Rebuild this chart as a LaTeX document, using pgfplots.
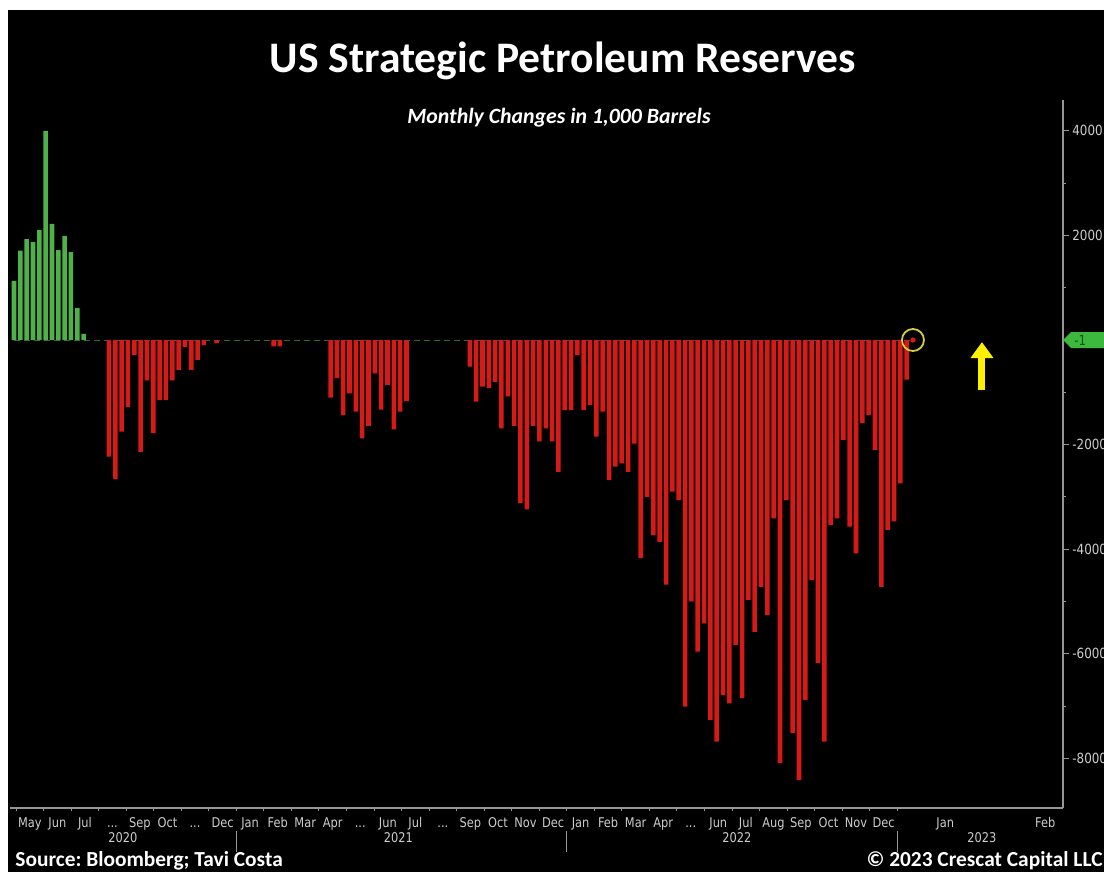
\documentclass[border=0pt]{standalone}
\usepackage{fontspec}
\setmainfont{Carlito}
\newfontfamily\bbg{DejaVu Sans}[FakeStretch=0.85]
\usepackage{pgfplots}
\pgfplotsset{compat=1.18}
\usepackage{pgfplotstable}
\usetikzlibrary{arrows.meta}

\definecolor{bbgreen}{RGB}{78,178,72}
\definecolor{bbred}{RGB}{214,26,24}
\definecolor{axgray}{RGB}{150,150,150}
\definecolor{lblgray}{RGB}{205,205,205}
\definecolor{ringyel}{RGB}{215,205,60}
\definecolor{arrowyel}{RGB}{255,240,0}
\definecolor{taggreen}{RGB}{60,185,60}

\newcommand{\skipm}{...}

% weekly change, 1,000 barrels (week 0 = early May 2020)
\pgfplotstableread{
wk chg
0 1130
1 1710
2 1930
3 1870
4 2100
5 4000
6 2220
7 1720
8 1990
9 1680
10 610
11 115
}\inflows

\pgfplotstableread{
wk chg
15 -2230
16 -2660
17 -1750
18 -1280
19 -290
20 -2140
21 -770
22 -1780
23 -1150
24 -1150
25 -770
26 -570
27 -130
28 -570
29 -380
30 -100
32 -60
41 -120
42 -120
50 -1100
51 -730
52 -1430
53 -1020
54 -1370
55 -1880
56 -1640
57 -640
58 -1330
59 -860
60 -1710
61 -1370
62 -1170
72 -510
73 -1180
74 -890
75 -920
76 -800
77 -1690
78 -1080
79 -1640
80 -3120
81 -3240
82 -1640
83 -1940
84 -1690
85 -1940
86 -2520
87 -1340
88 -1340
89 -290
90 -1340
91 -1240
92 -1850
93 -1370
94 -2680
95 -2420
96 -2360
97 -2520
98 -1980
99 -4170
100 -3000
101 -3730
102 -3860
103 -4680
104 -2900
105 -3060
106 -7010
107 -5000
108 -5960
109 -5420
110 -7270
111 -7680
112 -6790
113 -6950
114 -5830
115 -6850
116 -4970
117 -5580
118 -4720
119 -5260
120 -3410
121 -8090
122 -3060
123 -7520
124 -8410
125 -6880
126 -4590
127 -6180
128 -7680
129 -3540
130 -3410
131 -1910
132 -3570
133 -4080
134 -1590
135 -1430
136 -2100
137 -4720
138 -3630
139 -3470
140 -2740
141 -760
}\outflows

\begin{document}
\frenchspacing
\begin{tikzpicture}
\begin{scope}[x=0.5pt,y=-0.5pt]
  \fill[white] (0,0) rectangle (1104,872);
  \fill[black] (8,10) rectangle (1104,872);
  \node[white, font=\fontsize{21.8}{26}\selectfont\bfseries] at (563,61) {US Strategic Petroleum Reserves};
  \node[white, font=\fontsize{10.9}{13}\selectfont\bfseries\itshape] at (559,118) {Monthly Changes in 1,000 Barrels};
  \node[white, anchor=base west, inner sep=0, font=\fontsize{10.7}{12}\selectfont\bfseries] at (15,866) {Source: Bloomberg; Tavi Costa};
  \node[white, anchor=base east, inner sep=0, font=\fontsize{10.7}{12}\selectfont\bfseries] at (1103,866) {© 2023 Crescat Capital LLC};
\end{scope}

\begin{axis}[
  at={(5pt,-50pt)}, anchor=north west,
  scale only axis, width=526.5pt, height=354pt,
  xmin=-0.63, xmax=165.7, ymin=-8950, ymax=4590,
  axis x line*=bottom, axis y line*=right,
  axis line style={axgray, line width=0.6pt, -},
  clip=false,
  ytick={-8000,-6000,-4000,-2000,2000,4000},
  yticklabels={-8000,-6000,-4000,-2000,2000,4000},
  minor ytick={-9000,-7000,-5000,-3000,-1000,1000,3000},
  xtick={2.5,6.85,11.2,15.55,19.9,24.25,28.6,32.95,37.3,41.65,46.0,50.35,54.7,59.05,63.4,67.75,72.1,76.45,80.8,85.15,89.5,93.85,98.2,102.55,106.9,111.25,115.6,119.95,124.3,128.65,133.0,137.35,147.1,162.9},
  xticklabels={May,Jun,Jul,\skipm,Sep,Oct,\skipm,Dec,Jan,Feb,Mar,Apr,\skipm,Jun,Jul,\skipm,Sep,Oct,Nov,Dec,Jan,Feb,Mar,Apr,\skipm,Jun,Jul,Aug,Sep,Oct,Nov,Dec,Jan,Feb},
  minor xtick={0.325,4.675,9.025,13.375,17.725,22.075,26.425,30.775,35.125,39.475,43.825,48.175,52.525,56.875,61.225,65.575,69.925,74.275,78.625,82.975,87.325,91.675,96.025,100.375,104.725,109.075,113.425,117.775,122.125,126.475,130.825,135.175,139.525},
  tick style={axgray, line width=0.5pt},
  major x tick style={draw=none},
  major tick length=3pt, minor tick length=1.6pt,
  tick align=outside,
  x tick label style={font=\bbg\fontsize{6.7}{7}\selectfont, text=lblgray, inner sep=1pt, text height=5pt, text depth=1.4pt, yshift=-0.5pt},
  y tick label style={font=\bbg\fontsize{7}{8}\selectfont, text=lblgray, inner sep=1.5pt},
  extra x ticks={17.2,60.7,114.2,152.9},
  extra x tick labels={2020,2021,2022,2023},
  extra x tick style={tick style={draw=none}, xticklabel style={yshift=-7.5pt}},
]
\addplot[sharp plot, densely dashed, color=green!40!gray!60!black, line width=0.5pt] coordinates {(0,0) (142,0)};
\addplot[ybar, bar width=0.72, bar shift=0pt, fill=bbgreen, draw=none] table[x=wk, y=chg] {\inflows};
\addplot[ybar, bar width=0.72, bar shift=0pt, fill=bbred, draw=none] table[x=wk, y=chg] {\outflows};
\addplot[only marks, mark=*, mark size=1.1pt, color=bbred] coordinates {(142,-1)};

\draw[axgray, line width=0.5pt] ([yshift=-11.5pt]axis cs:35.125,-8950) -- ([yshift=-22pt]axis cs:35.125,-8950);
\draw[axgray, line width=0.5pt] ([yshift=-11.5pt]axis cs:87.325,-8950) -- ([yshift=-22pt]axis cs:87.325,-8950);
\draw[axgray, line width=0.5pt] ([yshift=-11.5pt]axis cs:139.525,-8950) -- ([yshift=-22pt]axis cs:139.525,-8950);

\draw[ringyel, line width=0.9pt] (axis cs:142,0) circle [radius=5.5pt];
\draw[arrowyel, line width=3.5pt, -{Triangle[width=11pt,length=8pt]}] (axis cs:152.9,-956) -- (axis cs:152.9,-40);
\end{axis}

\begin{scope}[x=0.5pt,y=-0.5pt]
  \fill[taggreen] (1063,340) -- (1071,332) -- (1112,332) -- (1112,348) -- (1071,348) -- cycle;
  \node[anchor=west, inner sep=0, font=\bbg\fontsize{7}{8}\selectfont, text=black!60!taggreen] at (1074,340) {-1};
\end{scope}

\pgfresetboundingbox
\path (0,0) rectangle (552pt,-436pt);
\end{tikzpicture}
\end{document}
